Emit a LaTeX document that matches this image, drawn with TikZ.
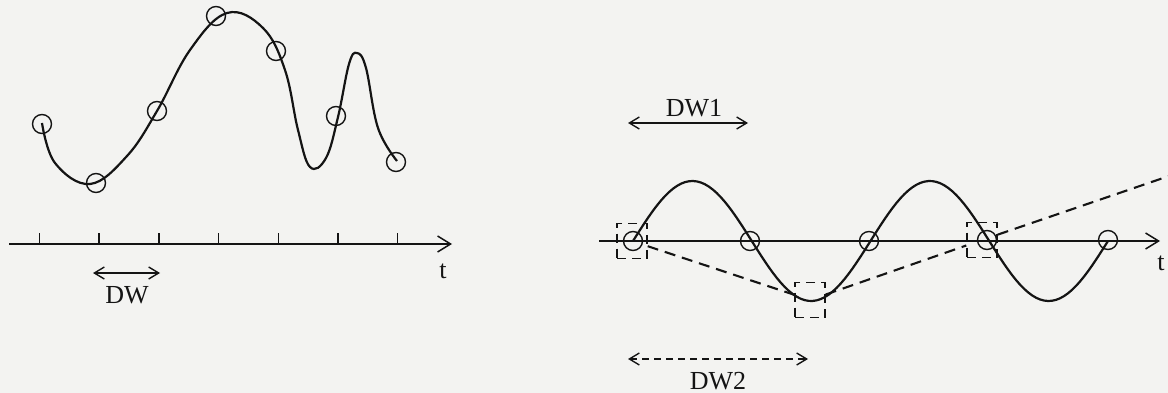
\documentclass[tikz,border=0pt]{standalone}
\usepackage{fontspec}
\setmainfont{Liberation Serif}
\usetikzlibrary{arrows.meta}
\definecolor{paper}{RGB}{243,243,241}
\definecolor{ink}{RGB}{20,20,20}
\begin{document}
\begin{tikzpicture}[x=1pt,y=-1pt,
  curve/.style={draw=ink,line width=2.2pt},
  axis/.style={draw=ink,line width=1.8pt,-{Straight Barb[length=13pt,width=16pt,line width=1.5pt]}},
  tick/.style={draw=ink,line width=1.5pt},
  dot/.style={circle,draw=ink,line width=1.4pt,minimum size=19pt,inner sep=0pt},
  dbox/.style={draw=ink,dash pattern=on 9pt off 6pt,line width=1.4pt,minimum width=30pt,minimum height=35pt,inner sep=0pt},
  span/.style={draw=ink,line width=1.5pt,{Straight Barb[length=10pt,width=12pt,line width=1.4pt]}-{Straight Barb[length=10pt,width=12pt,line width=1.4pt]}},
  dline/.style={draw=ink,line width=2.1pt,dash pattern=on 11pt off 7pt},
  lbl/.style={font=\fontsize{26}{30}\selectfont,inner sep=0pt,text=ink},
]
\useasboundingbox[fill=paper] (0,0) rectangle (1168,393);

% ---------------- left panel ----------------
\draw[curve] plot[smooth,tension=0.65] coordinates {
 (42,123) (55,163) (90,184) (127,156) (157,111) (190,50) (227,13)
 (263,28) (285,70) (298,130) (310,167) (326,158) (338,117)
 (349,64) (357,53) (366,68) (378,128) (397,161)};
\node[dot] (l1) at (42,124) {};
\node[dot] (l2) at (96,183) {};
\node[dot] (l3) at (157,111) {};
\node[dot] (l4) at (216,16) {};
\node[dot] (l5) at (276,51) {};
\node[dot] (l6) at (336,116) {};
\node[dot] (l7) at (396,162) {};

\coordinate (la0) at (9,244);
\coordinate (la1) at (452,244);
\draw[axis] (la0) -- (la1);
\foreach \i in {0,...,6} {
  \coordinate (lt\i) at ({39.5+59.7*\i},244);
  \draw[tick] (lt\i) -- ++(0,-11);
}
\node[lbl,anchor=base] (lt) at (443,278) {t};
\coordinate (dwa) at (93,273);
\coordinate (dwb) at (160,273);
\draw[span] (dwa) -- (dwb);
\node[lbl,anchor=base] (dw) at (127,303) {DW};

% ---------------- right panel ----------------
\coordinate (ra0) at (599,241);
\coordinate (ra1) at (1160,241);
\draw[axis] (ra0) -- (ra1);
\draw[curve] plot[domain=0:475,samples=120] ({633+\x},{241-60*sin(1.51579*\x)});
\node[dot] (r1) at (633,241) {};
\node[dot] (r2) at (750,241) {};
\node[dot] (r3) at (869,241) {};
\node[dot] (r4) at (987,240) {};
\node[dot] (r5) at (1108,240) {};
\node[lbl,anchor=base] (rt) at (1161,270) {t};

\node[dbox] (b1) at (632,241) {};
\node[dbox] (b2) at (810,300) {};
\node[dbox] (b3) at (982,240) {};
\coordinate (dend) at (1172,175);
\draw[dline] (b1) -- (b2) -- (b3) -- (dend);

\coordinate (dw1a) at (628,123);
\coordinate (dw1b) at (748,123);
\draw[span] (dw1a) -- (dw1b);
\node[lbl,anchor=base] (dw1) at (694,117) {DW1};

\coordinate (dw2a) at (628,359);
\coordinate (dw2b) at (808,359);
\draw[span,dash pattern=on 7pt off 5pt] (dw2a) -- (dw2b);
\node[lbl,anchor=base] (dw2) at (718,389) {DW2};
\end{tikzpicture}
\end{document}
